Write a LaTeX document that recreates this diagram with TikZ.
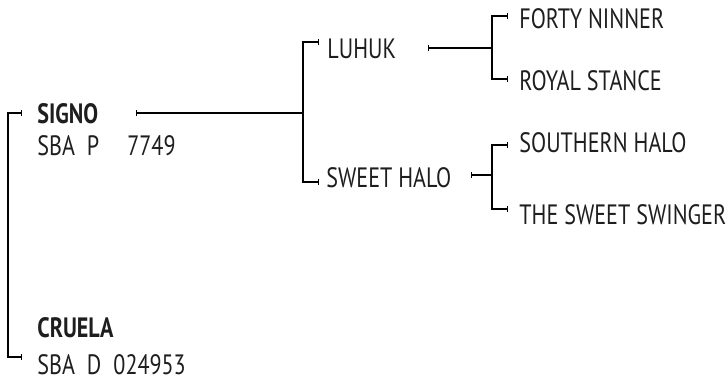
\documentclass[tikz,border=0pt]{standalone}
\usepackage{fontspec}
\setmainfont{PT Sans}[FakeStretch=0.79]
\usetikzlibrary{arrows.meta}

\begin{document}
\begin{tikzpicture}[x=0.5pt, y=-0.5pt, line join=miter]

	% Colors
	\definecolor{inkA}{RGB}{30,30,30}

	\tikzset{
		horse/.style={anchor=west, inner sep=0pt, text=inkA, font=\fontsize{14}{16}\selectfont},
		sire/.style={horse, font=\fontsize{14}{16}\selectfont\bfseries},
		link/.style={draw=black, line width=0.65pt},
		fromB/.style={link, {Bar[width=2.8pt]}-},
		bothB/.style={link, {Bar[width=2.8pt]}-{Bar[width=2.8pt]}},
	}

	\useasboundingbox (0,0) rectangle (726,380);

	% --- Left: the two parents
	\node[sire]  (signo)     at (37,113.5) {SIGNO};
	\node[horse] (signoreg)  at (37,146)   {SBA\hspace{6pt}P\hspace{14pt}7749};
	\node[sire]  (cruela)    at (37,328)   {CRUELA};
	\node[horse] (cruelareg) at (37,364.5) {SBA\hspace{6pt}D\hspace{6pt}024953};

	\coordinate (signo-in)  at (22,113);
	\coordinate (cruela-in) at (22,357);
	\coordinate (pair-bar)  at (8,113);
	\draw[bothB] (signo-in) -- (pair-bar) |- (cruela-in);

	% --- Middle: sire's parents
	\node[horse] (luhuk)     at (327,49)    {LUHUK};
	\node[horse] (sweethalo) at (326,177.5) {SWEET HALO};

	\coordinate (signo-out)  at (136,113);
	\coordinate (signo-fork) at (303,113);
	\coordinate (luhuk-in)   at (319,42);
	\coordinate (sweet-in)   at (319,182);
	\draw[fromB] (signo-out) -- (signo-fork);
	\draw[bothB] (luhuk-in) -| (signo-fork) |- (sweet-in);

	% --- Right: grandparents
	\node[horse] (forty)    at (519,18.5)  {FORTY NINNER};
	\node[horse] (royal)    at (519,81)    {ROYAL STANCE};
	\node[horse] (southern) at (519,142.5) {SOUTHERN HALO};
	\node[horse] (swinger)  at (519,215)   {THE SWEET SWINGER};

	\coordinate (luhuk-out)   at (428,48);
	\coordinate (luhuk-fork)  at (492,48);
	\coordinate (forty-in)    at (508,16);
	\coordinate (royal-in)    at (508,79);
	\draw[fromB] (luhuk-out) -- (luhuk-fork);
	\draw[bothB] (forty-in) -| (luhuk-fork) |- (royal-in);

	\coordinate (sweet-out)   at (471,175);
	\coordinate (sweet-fork)  at (492,175);
	\coordinate (southern-in) at (508,145);
	\coordinate (swinger-in)  at (508,209);
	\draw[fromB] (sweet-out) -- (sweet-fork);
	\draw[bothB] (southern-in) -| (sweet-fork) |- (swinger-in);

\end{tikzpicture}
\end{document}
